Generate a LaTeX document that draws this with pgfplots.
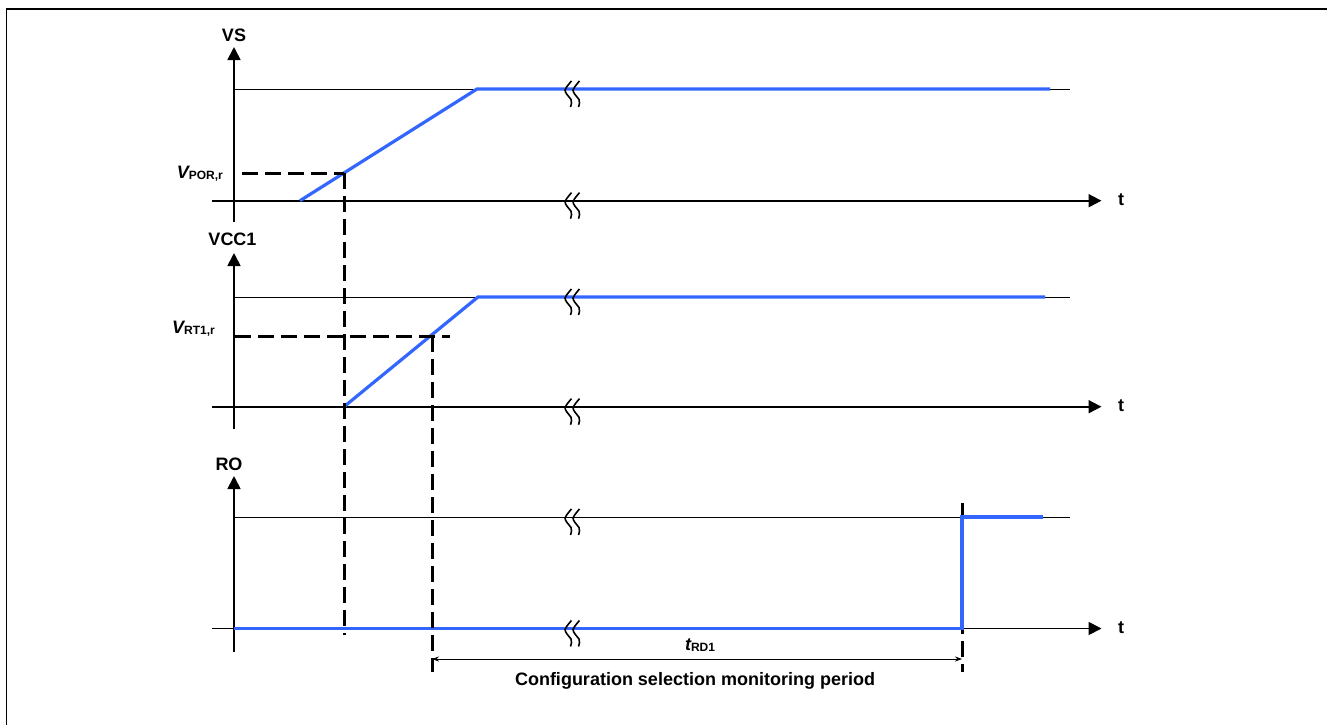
\documentclass[border=0pt]{standalone}
\usepackage{pgfplots}
\pgfplotsset{compat=1.18}
\usepackage{pgfplotstable}
\usepackage{fontspec}
\setmainfont{Liberation Sans}
\usetikzlibrary{arrows.meta}
\definecolor{sig}{RGB}{51,102,255}

% one break mark (squiggle), relative to the line it cuts
\pgfplotstableread{
x y
6.5 -8
3.5 -4.5
0 1
2 5.5
6 10.5
6.5 14
5.5 18
}\squig

\newcommand{\brk}[2]{%
  \addplot[brk] table[x expr=\thisrow{x}+#1, y expr=\thisrow{y}+#2] {\squig};
  \addplot[brk] table[x expr=\thisrow{x}+#1+8, y expr=\thisrow{y}+#2] {\squig};}
\newcommand{\fbig}{\fontsize{18}{21}\selectfont\bfseries}
\newcommand{\fsub}{\fontsize{12}{14}\selectfont\bfseries}

\begin{document}
\begin{tikzpicture}
\begin{axis}[
    name=main,
    scale only axis, width=1327pt, height=724pt,
    xmin=0, xmax=1327, ymin=0, ymax=724, y dir=reverse,
    hide axis, clip=true,
    ax/.style={black, line width=1.8pt, line cap=butt, -{Triangle[length=13pt,width=13pt]}},
    lvl/.style={black, line width=0.9pt},
    sg/.style={sig, line width=3.2pt, line join=miter, line cap=butt},
    dsh/.style={black, line width=3pt, line cap=butt, dash pattern=on 16pt off 7pt},
    brk/.style={black, line width=1.6pt, smooth},
]
% outer frame
\addplot[black, line width=1.5pt] coordinates {(6.5,740) (6.5,9) (1340,9)};

% high levels
\addplot[lvl] coordinates {(234,89) (1070,89)};
\addplot[lvl] coordinates {(234,297) (1070,297)};
\addplot[lvl] coordinates {(234,517) (1070,517)};

% axes
\addplot[ax] coordinates {(234,222) (234,47)};
\addplot[ax] coordinates {(212,200.7) (1101.5,200.7)};
\addplot[ax] coordinates {(234,429) (234,253)};
\addplot[ax] coordinates {(212,406.7) (1101.5,406.7)};
\addplot[ax] coordinates {(234,652) (234,476)};
\addplot[ax] coordinates {(212,628.5) (1101.5,628.5)};

\addplot[dsh] coordinates {(962,503) (962,672)};

% signals
\addplot[sg] coordinates {(300,200.7) (477,89) (1050,89)};
\addplot[sg] coordinates {(344,406.7) (478,297) (1045,297)};
\addplot[sg] coordinates {(234,628.5) (962,628.5) (962,517) (1043,517)};

% thresholds
\addplot[dsh] coordinates {(242,173) (344,173)};
\addplot[dsh] coordinates {(344,173) (344,635)};
\addplot[dsh] coordinates {(235,336) (450,336)};
\addplot[dsh] coordinates {(432,336) (432,672)};

% time breaks
\brk{565}{89}
\brk{565}{200.7}
\brk{565}{297}
\brk{565}{406.7}
\brk{565}{517}
\brk{565}{628.5}

% tRD1
\addplot[black, line width=0.8pt, {Stealth[length=7pt,width=5pt]}-{Stealth[length=7pt,width=5pt]}]
    coordinates {(432,659) (962,659)};

\node[anchor=base, font=\fbig] at (axis cs:234,41) {VS};
\node[anchor=base, font=\fbig] at (axis cs:232.5,245) {VCC1};
\node[anchor=base, font=\fbig] at (axis cs:229,470.5) {RO};
\node[anchor=base, font=\fbig] at (axis cs:1121,205) {t};
\node[anchor=base, font=\fbig] at (axis cs:1121,411) {t};
\node[anchor=base, font=\fbig] at (axis cs:1121,633) {t};
\node[anchor=base east, inner xsep=0pt] at (axis cs:223,178)
    {{\fbig\itshape V}{\fsub\raisebox{-1.5pt}{POR,r}}};
\node[anchor=base east, inner xsep=0pt] at (axis cs:215,333)
    {{\fbig\itshape V}{\fsub\raisebox{-1.5pt}{RT1,r}}};
\node[anchor=base, inner xsep=0pt] at (axis cs:700,650)
    {{\fbig\itshape t}{\fsub\raisebox{-1.5pt}{RD1}}};
\node[anchor=base, font=\fbig] at (axis cs:695,685) {Configuration selection monitoring period};
\end{axis}
\pgfresetboundingbox
\path[use as bounding box] (main.south west) rectangle (main.north east);
\end{tikzpicture}
\end{document}
